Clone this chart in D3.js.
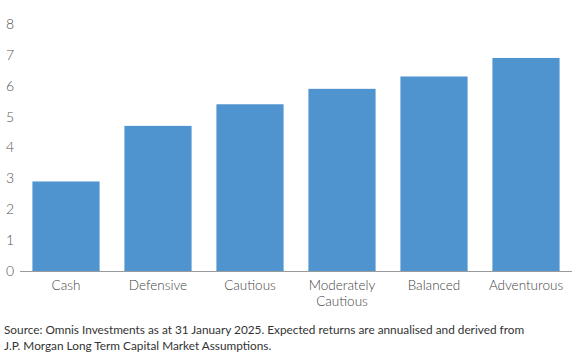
<!DOCTYPE html>
<html>
<head>
<meta charset="utf-8">
<script src="https://cdn.jsdelivr.net/npm/d3@7"></script>
<style>
  body { margin: 0; background: #fff; }
  svg text { font-family: Lato, "Open Sans", sans-serif; }
</style>
</head>
<body>
<div id="chart"></div>
<script>
var w = 581;
var h = 361;

var categories = ['Cash', 'Defensive', 'Cautious', 'Moderately Cautious', 'Balanced', 'Adventurous'];
var returns = [2.9, 4.7, 5.4, 5.9, 6.3, 6.9];
var yTicks = [0, 1, 2, 3, 4, 5, 6, 7, 8];
var sourceLines = [
  'Source: Omnis Investments as at 31 January 2025. Expected returns are annualised and derived from',
  'J.P. Morgan Long Term Capital Market Assumptions.'
];

var border = { top: 24, bottom: 90, left: 20, right: 9 };

const svg = d3.select('#chart')
              .append('svg')
              .attr('width', w)
              .attr('height', h);

var x = d3.scaleBand()
          .domain(categories)
          .range([border.left, w - border.right])
          .paddingInner(0.27)
          .paddingOuter(0.135);

var y = d3.scaleLinear()
          .domain([0, 8])
          .range([h - border.bottom, border.top]);

// y tick labels, no axis line
svg.append('g')
    .selectAll('text')
    .data(yTicks)
    .enter()
      .append('text')
      .attr('x', 14)
      .attr('y', d => y(d))
      .attr('dy', '0.35em')
      .attr('text-anchor', 'end')
      .attr('font-size', 14)
      .attr('font-weight', 300)
      .attr('fill', '#555')
      .text(d => d);

svg.selectAll('rect')
    .data(returns)
    .enter()
      .append('rect')
      .attr('x', (d, i) => x(categories[i]))
      .attr('width', x.bandwidth())
      .attr('y', d => y(d))
      .attr('height', d => y(0) - y(d))
      .attr('fill', '#4f93cf');

// baseline
svg.append('line')
    .attr('x1', border.left)
    .attr('x2', w - border.right)
    .attr('y1', y(0) + 0.5)
    .attr('y2', y(0) + 0.5)
    .attr('stroke', '#9a9a9a')
    .attr('stroke-width', 1);

// category labels, wrapped on two words for "Moderately Cautious"
var labels = svg.append('g')
    .selectAll('text')
    .data(categories)
    .enter()
      .append('text')
      .attr('text-anchor', 'middle')
      .attr('font-size', 13.5)
      .attr('font-weight', 300)
      .attr('fill', '#444');

labels.each(function (d) {
  var parts = d === 'Moderately Cautious' ? d.split(' ') : [d];
  var t = d3.select(this);
  parts.forEach((p, i) => {
    t.append('tspan')
      .attr('x', x(d) + x.bandwidth() / 2)
      .attr('y', 290 + i * 16)
      .text(p);
  });
});

svg.append('g')
    .selectAll('text')
    .data(sourceLines)
    .enter()
      .append('text')
      .attr('x', 4)
      .attr('y', (d, i) => 334 + i * 16)
      .attr('font-size', 11.8)
      .attr('fill', '#333')
      .text(d => d);
</script>
</body>
</html>
